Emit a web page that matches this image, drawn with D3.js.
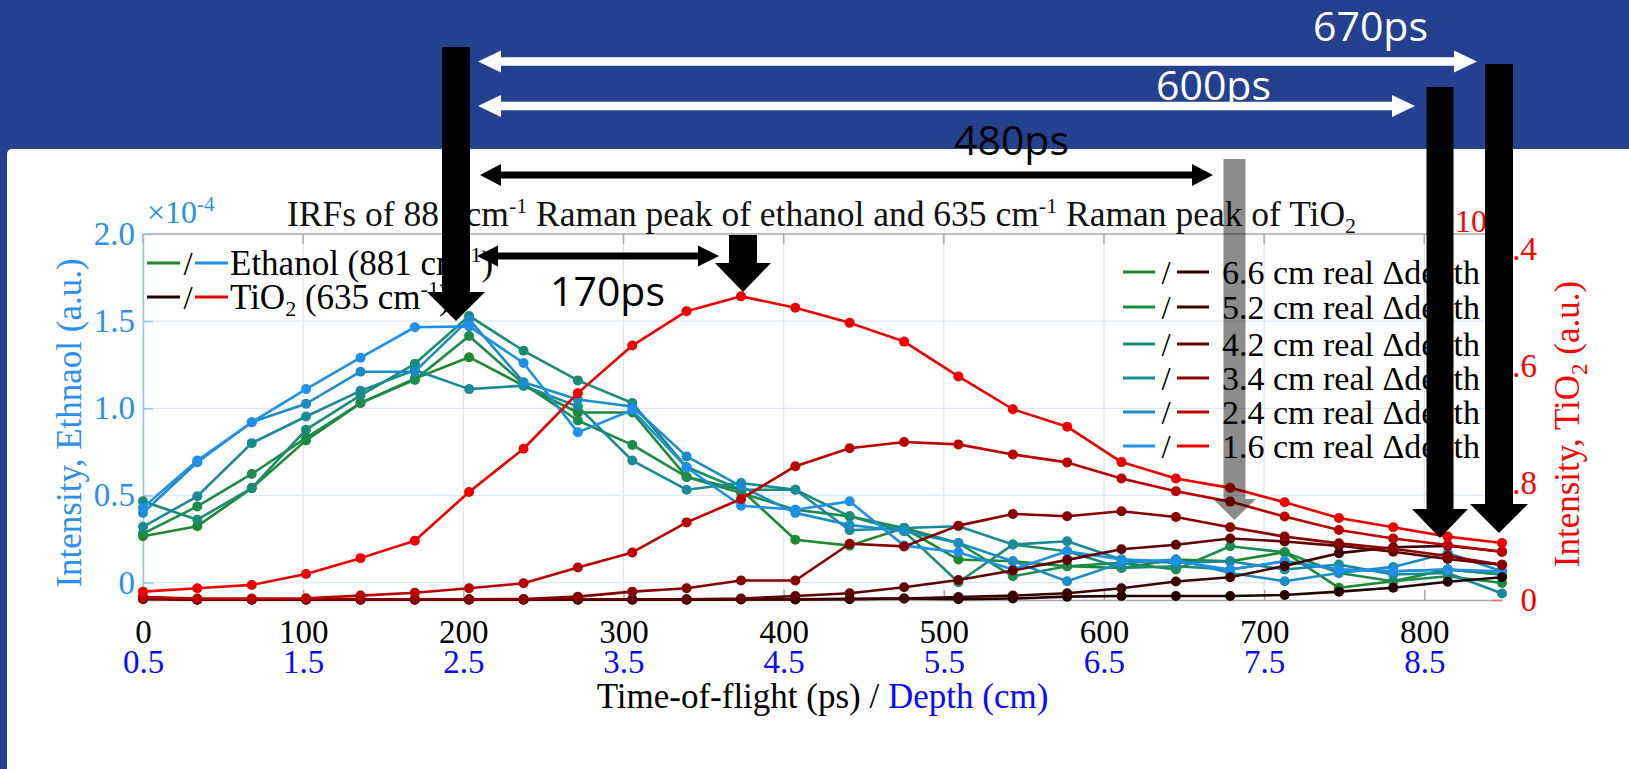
<!DOCTYPE html>
<html>
<head>
<meta charset="utf-8">
<script src="https://cdn.jsdelivr.net/npm/d3@7"></script>
<style>
html, body { margin: 0; padding: 0; background: #23418f; overflow: hidden; }
svg { display: block; }
text { font-family: "Liberation Serif", "Times New Roman", serif; }
.note { font-family: "Open Sans", "Liberation Sans", sans-serif; }
</style>
</head>
<body>
<div id="chart"></div>
<script>
// time-of-flight of each sample (ps)
var times = [0, 33.9, 67.9, 101.8, 135.8, 169.7, 203.6, 237.6, 271.5, 305.5, 339.4, 373.4, 407.3,
    441.2, 475.2, 509.1, 543.1, 577.0, 610.9, 644.9, 678.8, 712.8, 746.7, 780.6, 814.6, 848.5];

var xTicks = [0, 100, 200, 300, 400, 500, 600, 700, 800];
var depthLabels = ["0.5", "1.5", "2.5", "3.5", "4.5", "5.5", "6.5", "7.5", "8.5"];
var leftTicks = [0, 0.5, 1.0, 1.5, 2.0];
var rightTicks = [0, 0.8, 1.6, 2.4];

var depthNames = ["6.6 cm real \u0394depth", "5.2 cm real \u0394depth", "4.2 cm real \u0394depth",
    "3.4 cm real \u0394depth", "2.4 cm real \u0394depth", "1.6 cm real \u0394depth"];
var ethColors = ["#1b8a2c", "#1c8c4c", "#1a8c72", "#1a8a98", "#1a8cc8", "#1f90ea"];
var tioColors = ["#220000", "#3e0000", "#600000", "#880000", "#bb0000", "#ee0000"];

// ethanol intensity (x1e-4), one list per real depth
var eth66 = [0.266, 0.323, 0.542, 0.816, 1.03, 1.17, 1.293, 1.13, 0.976, 0.976, 0.606, 0.533, 0.246,
    0.212, 0.313, 0.132, 0.122, 0.094, 0.084, 0.132, 0.122, 0.174, -0.03, 0.008, 0.075, 0.046];
var eth52 = [0.281, 0.437, 0.623, 0.83, 1.03, 1.163, 1.415, 1.14, 0.93, 0.79, 0.606, 0.514, 0.418,
    0.38, 0.313, 0.227, 0.036, 0.094, 0.113, 0.075, 0.208, 0.174, 0.055, 0.008, 0.036, -0.002];
var eth42 = [0.466, 0.361, 0.542, 0.877, 1.074, 1.255, 1.53, 1.33, 1.16, 1.03, 0.663, 0.533, 0.533,
    0.38, 0.294, 0.002, 0.218, 0.18, 0.084, 0.094, 0.075, 0.122, 0.075, 0.065, 0.075, 0.046];
var eth34 = [0.32, 0.495, 0.80, 0.953, 1.10, 1.22, 1.11, 1.13, 1.01, 0.70, 0.533, 0.571, 0.533,
    0.30, 0.313, 0.323, 0.218, 0.237, 0.132, 0.113, 0.122, 0.075, 0.103, 0.046, 0.055, -0.063];
var eth24 = [0.40, 0.69, 0.92, 1.026, 1.21, 1.21, 1.51, 1.15, 1.05, 1.01, 0.724, 0.552, 0.40,
    0.33, 0.294, 0.227, 0.122, 0.008, 0.113, 0.132, 0.055, 0.008, 0.055, 0.09, 0.17, 0.065];
var eth16 = [0.43, 0.70, 0.92, 1.11, 1.29, 1.465, 1.47, 1.26, 0.862, 0.99, 0.66, 0.441, 0.418,
    0.466, 0.212, 0.174, 0.075, 0.18, 0.132, 0.122, 0.075, 0.122, 0.075, 0.065, 0.075, 0.065];

// TiO2 intensity, one list per real depth
var tio66 = [0.02, 0.003, 0.003, 0.003, 0.003, 0.003, 0.003, 0.003, 0.003, 0.003, 0.003, 0.005, 0.005,
    0.008, 0.01, 0.005, 0.01, 0.023, 0.027, 0.027, 0.027, 0.034, 0.057, 0.084, 0.125, 0.155];
var tio52 = [0.01, 0.002, 0.002, 0.002, 0.002, 0.002, 0.002, 0.002, 0.002, 0.002, 0.002, 0.003, 0.003,
    0.005, 0.01, 0.02, 0.03, 0.046, 0.08, 0.126, 0.155, 0.233, 0.32, 0.36, 0.37, 0.33];
var tio42 = [0.005, 0.003, 0.003, 0.003, 0.003, 0.003, 0.003, 0.003, 0.005, 0.005, 0.005, 0.01, 0.027,
    0.046, 0.087, 0.137, 0.201, 0.274, 0.347, 0.377, 0.42, 0.40, 0.37, 0.33, 0.28, 0.24];
var tio34 = [0.01, 0.005, 0.005, 0.005, 0.005, 0.005, 0.005, 0.007, 0.023, 0.057, 0.08, 0.133, 0.133,
    0.384, 0.366, 0.508, 0.588, 0.572, 0.606, 0.567, 0.497, 0.433, 0.387, 0.35, 0.30, 0.24];
var tio24 = [0.02, 0.01, 0.01, 0.012, 0.03, 0.05, 0.08, 0.114, 0.222, 0.325, 0.53, 0.69, 0.914,
    1.036, 1.079, 1.063, 0.994, 0.94, 0.83, 0.743, 0.672, 0.57, 0.478, 0.42, 0.376, 0.33];
var tio16 = [0.057, 0.080, 0.103, 0.178, 0.286, 0.405, 0.738, 1.033, 1.413, 1.738, 1.973, 2.074, 1.996,
    1.893, 1.765, 1.527, 1.303, 1.184, 0.942, 0.830, 0.766, 0.668, 0.56, 0.497, 0.433, 0.389];

var ethSeries = [eth66, eth52, eth42, eth34, eth24, eth16];
var tioSeries = [tio66, tio52, tio42, tio34, tio24, tio16];

var W = 1629, H = 769;
var plot = { left: 143, right: 1502, top: 234, bottom: 600 };

var svg = d3.select("#chart").append("svg")
    .attr("width", W)
    .attr("height", H);

// slide background
svg.append("rect").attr("width", W).attr("height", H).attr("fill", "#23418f");
svg.append("rect")
    .attr("x", 7).attr("y", 149)
    .attr("width", W).attr("height", H)
    .attr("rx", 5)
    .attr("fill", "#ffffff");

var x = d3.scaleLinear().domain([0, 848.5]).range([plot.left, plot.right]);
var yL = d3.scaleLinear().domain([-0.1, 2.0]).range([plot.bottom, plot.top]);
var yR = d3.scaleLinear().domain([0, 2.5]).range([plot.bottom, plot.top]);

var chart = svg.append("g");

// grid
chart.append("g").selectAll("line")
    .data(xTicks)
    .join("line")
    .attr("x1", function (d) { return x(d); })
    .attr("x2", function (d) { return x(d); })
    .attr("y1", plot.top).attr("y2", plot.bottom)
    .attr("stroke", "#e4e4e4").attr("stroke-width", 1.2);
chart.append("g").selectAll("line")
    .data(leftTicks.slice(0, 4))
    .join("line")
    .attr("x1", plot.left).attr("x2", plot.right)
    .attr("y1", function (d) { return yL(d); })
    .attr("y2", function (d) { return yL(d); })
    .attr("stroke", "#dde9f6").attr("stroke-width", 1.2);

// box lines
chart.append("line")
    .attr("x1", plot.left).attr("x2", plot.right)
    .attr("y1", plot.top).attr("y2", plot.top)
    .attr("stroke", "#a8a8a8").attr("stroke-width", 1.5);
chart.append("g").selectAll("line")
    .data(xTicks)
    .join("line")
    .attr("x1", function (d) { return x(d); })
    .attr("x2", function (d) { return x(d); })
    .attr("y1", plot.top).attr("y2", plot.top + 10)
    .attr("stroke", "#a8a8a8").attr("stroke-width", 1.5);

// bottom axis: time labels
var xAxis = chart.append("g")
    .attr("transform", "translate(0," + plot.bottom + ")")
    .call(d3.axisBottom(x).tickValues(xTicks).tickFormat(d3.format("d")).tickSizeInner(-10).tickSizeOuter(0).tickPadding(20));
xAxis.select(".domain").attr("stroke", "#a8a8a8").attr("stroke-width", 1.5);
xAxis.selectAll(".tick line").attr("stroke", "#a8a8a8").attr("stroke-width", 1.5);
xAxis.selectAll("text")
    .attr("fill", "#000")
    .style("font-family", "'Liberation Serif', serif")
    .style("font-size", "33px");

// bottom axis: depth labels
var depthAxis = chart.append("g")
    .attr("transform", "translate(0," + plot.bottom + ")")
    .call(d3.axisBottom(x).tickValues(xTicks)
        .tickFormat(function (d, i) { return depthLabels[i]; })
        .tickSize(0).tickPadding(50));
depthAxis.select(".domain").remove();
depthAxis.selectAll("text")
    .attr("fill", "#0a0aff")
    .style("font-family", "'Liberation Serif', serif")
    .style("font-size", "33px");

// left axis
var leftAxis = chart.append("g")
    .attr("transform", "translate(" + plot.left + ",0)")
    .call(d3.axisLeft(yL).tickValues(leftTicks)
        .tickFormat(function (d) { return d === 0 ? "0" : d.toFixed(1); })
        .tickSizeInner(-10).tickSizeOuter(0).tickPadding(8));
leftAxis.select(".domain").attr("stroke", "#93c6f2").attr("stroke-width", 1.5);
leftAxis.selectAll(".tick line").attr("stroke", "#93c6f2").attr("stroke-width", 1.5);
leftAxis.selectAll("text")
    .attr("fill", "#2b8ff0")
    .style("font-family", "'Liberation Serif', serif")
    .style("font-size", "33px");

// right axis
var rightAxis = chart.append("g")
    .attr("transform", "translate(" + plot.right + ",0)")
    .call(d3.axisRight(yR).tickValues(rightTicks)
        .tickFormat(function (d) { return d === 0 ? "0" : d.toFixed(1); })
        .tickSizeInner(-10).tickSizeOuter(0));
rightAxis.select(".domain").remove();
rightAxis.selectAll(".tick line").attr("stroke", "#ff6a6a").attr("stroke-width", 1.5);
rightAxis.selectAll("text")
    .attr("x", 35)
    .attr("text-anchor", "end")
    .attr("fill", "#ff0000")
    .style("font-family", "'Liberation Serif', serif")
    .style("font-size", "33px");

// exponent labels
var expL = chart.append("text")
    .attr("x", plot.left + 4).attr("y", plot.top - 11)
    .attr("fill", "#2b8ff0").style("font-size", "32px");
expL.append("tspan").text("\u00d710");
expL.append("tspan").attr("dy", -12).style("font-size", "21px").text("-4");

var expR = chart.append("text")
    .attr("x", 1437).attr("y", plot.top - 2)
    .attr("fill", "#ff0000").style("font-size", "32px");
expR.append("tspan").text("\u00d710");
expR.append("tspan").attr("dy", -12).style("font-size", "21px").text("-5");

// axis titles
chart.append("text")
    .attr("transform", "translate(81,423) rotate(-90)")
    .attr("text-anchor", "middle")
    .attr("fill", "#2b8ff0")
    .style("font-size", "35px")
    .text("Intensity, Ethnaol (a.u.)");

var rLabel = chart.append("text")
    .attr("transform", "translate(1579,424) rotate(-90)")
    .attr("text-anchor", "middle")
    .attr("fill", "#ff0000")
    .style("font-size", "35px");
rLabel.append("tspan").text("Intensity, TiO");
rLabel.append("tspan").attr("dy", 8).style("font-size", "23px").text("2");
rLabel.append("tspan").attr("dy", -8).text(" (a.u.)");

var xLabel = chart.append("text")
    .attr("x", (plot.left + plot.right) / 2).attr("y", 708)
    .attr("text-anchor", "middle")
    .style("font-size", "35px");
xLabel.append("tspan").attr("fill", "#000").text("Time-of-flight (ps) / ");
xLabel.append("tspan").attr("fill", "#0a0aff").text("Depth (cm)");

// title
var title = chart.append("text")
    .attr("x", 287).attr("y", 226)
    .attr("fill", "#111")
    .style("font-size", "35.5px");
title.append("tspan").text("IRFs of 881 cm");
title.append("tspan").attr("dy", -13).style("font-size", "22px").text("-1");
title.append("tspan").attr("dy", 13).text(" Raman peak of ethanol and 635 cm");
title.append("tspan").attr("dy", -13).style("font-size", "22px").text("-1");
title.append("tspan").attr("dy", 13).text(" Raman peak of TiO");
title.append("tspan").attr("dy", 7).style("font-size", "22px").text("2");

// series
var line = function (scale) {
    return d3.line()
        .x(function (d, i) { return x(times[i]); })
        .y(function (d) { return scale(d); });
};

function drawSeries(values, color, scale) {
    var g = chart.append("g");
    g.append("path")
        .attr("d", line(scale)(values))
        .attr("fill", "none")
        .attr("stroke", color)
        .attr("stroke-width", 2.6)
        .attr("stroke-linejoin", "round");
    g.selectAll("circle")
        .data(values)
        .join("circle")
        .attr("cx", function (d, i) { return x(times[i]); })
        .attr("cy", function (d) { return scale(d); })
        .attr("r", 5)
        .attr("fill", color);
}

ethSeries.forEach(function (s, i) { drawSeries(s, ethColors[i], yL); });
tioSeries.forEach(function (s, i) { drawSeries(s, tioColors[i], yR); });

// legend, top left
var legendA = chart.append("g");
var legA = [
    { c1: ethColors[0], c2: ethColors[5], y: 263, name: "Ethanol (881 cm", sub: false },
    { c1: tioColors[0], c2: tioColors[5], y: 297, name: "TiO", sub: true }
];
legA.forEach(function (d) {
    legendA.append("line").attr("x1", 147).attr("x2", 180).attr("y1", d.y).attr("y2", d.y)
        .attr("stroke", d.c1).attr("stroke-width", 3);
    legendA.append("text").attr("x", 188).attr("y", d.y + 12).attr("text-anchor", "middle")
        .style("font-size", "33px").text("/");
    legendA.append("line").attr("x1", 195).attr("x2", 228).attr("y1", d.y).attr("y2", d.y)
        .attr("stroke", d.c2).attr("stroke-width", 3);
    var t = legendA.append("text").attr("x", 230).attr("y", d.y + 12).style("font-size", "35px");
    if (d.sub) {
        t.append("tspan").text("TiO");
        t.append("tspan").attr("dy", 7).style("font-size", "22px").text("2");
        t.append("tspan").attr("dy", -7).text(" (635 cm");
    } else {
        t.append("tspan").text(d.name);
    }
    t.append("tspan").attr("dy", -13).style("font-size", "22px").text("-1");
    t.append("tspan").attr("dy", 13).text(")");
});

// legend, right
var legY = [272, 307, 344, 378, 412, 446];
var legendB = chart.append("g");
depthNames.forEach(function (name, i) {
    legendB.append("line").attr("x1", 1123).attr("x2", 1155).attr("y1", legY[i]).attr("y2", legY[i])
        .attr("stroke", ethColors[i]).attr("stroke-width", 3);
    legendB.append("text").attr("x", 1166).attr("y", legY[i] + 12).attr("text-anchor", "middle")
        .style("font-size", "33px").text("/");
    legendB.append("line").attr("x1", 1177).attr("x2", 1209).attr("y1", legY[i]).attr("y2", legY[i])
        .attr("stroke", tioColors[i]).attr("stroke-width", 3);
    legendB.append("text").attr("x", 1222).attr("y", legY[i] + 12)
        .style("font-size", "34px").text(name);
});

// slide annotations
var notes = svg.append("g");

function hArrow(x1, x2, y, t, L, h, color) {
    var p = [[x1, y], [x1 + L, y - h], [x1 + L, y - t / 2], [x2 - L, y - t / 2], [x2 - L, y - h], [x2, y],
        [x2 - L, y + h], [x2 - L, y + t / 2], [x1 + L, y + t / 2], [x1 + L, y + h]];
    notes.append("polygon").attr("points", p.join(" ")).attr("fill", color);
}

function dArrow(xc, w, yTop, yHead, yTip, hw, color, op) {
    var p = [[xc - w / 2, yTop], [xc + w / 2, yTop], [xc + w / 2, yHead], [xc + hw, yHead], [xc, yTip],
        [xc - hw, yHead], [xc - w / 2, yHead]];
    notes.append("polygon").attr("points", p.join(" ")).attr("fill", color).attr("fill-opacity", op);
}

hArrow(478, 1477, 61.5, 8.5, 23, 11, "#ffffff");
hArrow(478, 1415, 106, 8.5, 23, 11, "#ffffff");
hArrow(480, 1213, 175, 7, 21, 11, "#000000");
hArrow(477, 719, 256, 7, 21, 10.5, "#000000");

dArrow(456, 28, 47, 292, 321, 29, "#000000", 1);
dArrow(743, 28, 235, 263, 292, 28, "#000000", 1);
dArrow(1234.5, 22, 159, 499, 520, 21.5, "#000000", 0.45);
dArrow(1440, 27, 87, 509, 538, 28, "#000000", 1);
dArrow(1499, 28, 64, 504, 533, 29, "#000000", 1);

var noteText = [
    { t: "670ps", x: 1313, y: 41, c: "#ffffff" },
    { t: "600ps", x: 1156, y: 100, c: "#ffffff" },
    { t: "480ps", x: 954, y: 155, c: "#000000" },
    { t: "170ps", x: 550, y: 306, c: "#000000" }
];
notes.selectAll("text.note")
    .data(noteText)
    .join("text")
    .attr("class", "note")
    .attr("x", function (d) { return d.x; })
    .attr("y", function (d) { return d.y; })
    .attr("fill", function (d) { return d.c; })
    .style("font-size", "41px")
    .text(function (d) { return d.t; });
</script>
</body>
</html>
